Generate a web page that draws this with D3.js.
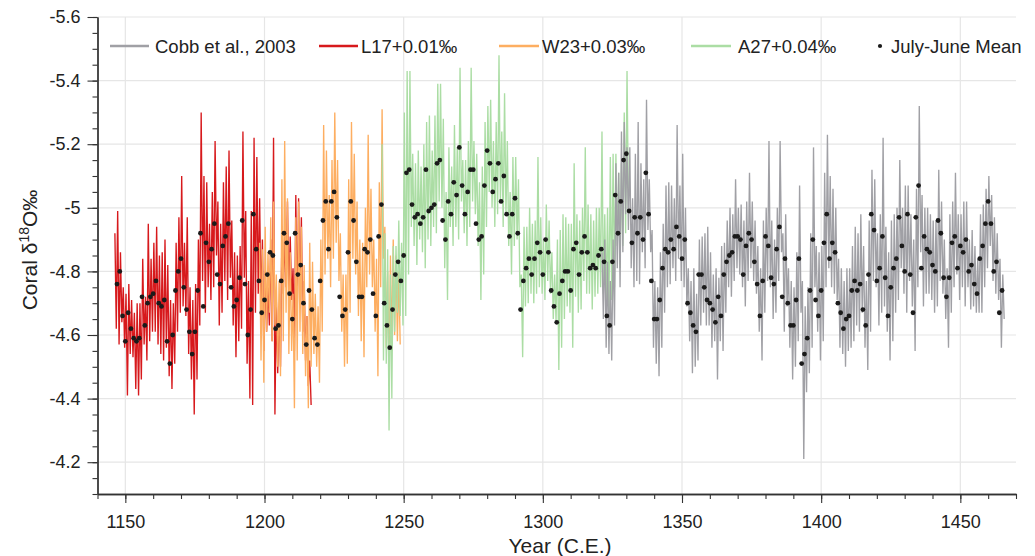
<!DOCTYPE html>
<html><head><meta charset="utf-8">
<script src="https://cdn.jsdelivr.net/npm/d3@7"></script>
<style>
html,body{margin:0;padding:0;background:#fff;}
svg{display:block;font-family:"Liberation Sans",Arial,Helvetica,sans-serif;}
</style></head><body>
<svg id="chart" width="1035" height="556"></svg>
<script>
// ---------------- DATA ----------------
const meanStart = 1147;
const meanValues = [
-4.76,-4.80,-4.66,-4.58,-4.67,-4.62,-4.59,-4.58,-4.59,-4.72,
-4.63,-4.70,-4.72,-4.73,-4.77,-4.70,-4.69,-4.71,-4.58,-4.51,
-4.60,-4.74,-4.80,-4.84,-4.75,-4.68,-4.61,-4.54,-4.61,-4.74,
-4.92,-4.69,-4.89,-4.83,-4.87,-4.95,-4.79,-4.76,-4.88,-4.91,
-4.95,-4.75,-4.69,-4.71,-4.78,-4.96,-4.76,-4.60,-4.68,-4.98,
-4.87,
-4.77,-4.67,-4.71,-4.79,-4.86,-4.85,-4.62,-4.63,-4.77,-4.92,
-4.89,-4.73,-4.65,-4.92,-4.79,-4.82,-4.70,-4.57,-4.74,-4.68,
-4.59,-4.57,-4.77,-4.96,-5.02,-4.87,-5.02,-5.05,-4.97,-4.72,
-4.66,-4.68,-4.86,-5.02,-4.96,-4.83,-4.72,-4.72,-4.87,-4.86,
-4.90,-4.73,-4.66,-4.91,-5.01,-4.70,-4.63,-4.56,-4.68,-4.79,
-4.83,-4.77,-4.85,
-5.11,-5.12,-5.01,-4.97,-4.98,-4.95,-4.97,-5.12,-4.99,-5.00,
-5.01,-5.14,-5.15,-4.96,-4.90,-5.02,-4.98,-5.08,-5.04,-5.19,
-5.07,-4.98,-5.05,-5.12,-5.12,-4.95,-4.90,-4.91,-5.07,-5.18,
-5.14,-5.05,-5.09,-5.14,-5.02,-5.10,-4.98,-4.91,-4.98,-5.03,
-4.92,-4.68,-4.77,-4.81,-4.84,-4.79,-4.84,-4.89,-4.86,-4.79,
-4.90,-4.86,-4.74,-4.69,
-4.64,-4.73,-4.77,-4.80,-4.80,-4.74,-4.87,-4.89,-4.79,-4.86,
-4.91,-4.86,-4.81,-4.82,-4.81,-4.85,-4.87,-4.83,-4.66,-4.63,
-4.83,-5.04,-4.92,-5.02,-5.15,-5.17,-4.99,-4.89,-4.97,-4.92,
-4.97,-4.90,-5.11,-4.98,-4.77,-4.65,-4.65,-4.71,-4.81,-4.87,
-4.86,-4.90,-4.87,-4.94,-4.91,-4.84,-4.90,-4.70,-4.67,-4.63,
-4.61,-4.79,-4.79,-4.75,
-4.71,-4.70,-4.68,-4.64,-4.72,-4.66,-4.79,-4.83,-4.85,-4.86,
-4.91,-4.91,-4.90,-4.79,-4.88,-4.92,-4.90,-4.83,-4.76,-4.66,
-4.77,-4.91,-4.88,-4.78,-4.76,-4.87,-4.94,-4.72,-4.84,-4.70,
-4.63,-4.63,-4.71,-4.84,-4.51,-4.54,-4.59,-4.74,-4.90,-4.71,
-4.66,-4.74,-4.89,-4.98,-4.84,-4.89,-4.86,-4.70,-4.67,-4.62,
-4.65,-4.66,-4.74,-4.77,
-4.74,-4.76,-4.68,-4.63,-4.79,-4.98,-4.93,-4.77,-4.81,-4.91,
-4.78,-4.66,-4.75,-4.81,-4.84,-4.97,-4.88,-4.80,-4.98,-4.79,
-4.67,-4.97,-5.07,-4.81,-4.91,-4.87,-4.86,-4.82,-4.80,-4.96,
-4.92,-4.78,-4.72,-4.78,-4.89,-4.91,-4.81,-4.88,-4.86,-4.90,
-4.80,-4.82,-4.76,-4.73,-4.84,-4.88,-4.95,-5.02,-4.95,-4.80,
-4.83,-4.67,-4.74
];

// Monthly records: per-year most negative (hi) and least negative (lo) excursions
const l17Start = 1146;
const l17Hi = [
-4.92,-4.99,-4.86,-4.75,-4.73,-4.76,-4.71,-4.67,-4.70,-4.70,
-4.84,-4.72,-4.95,-4.84,-4.89,-4.94,-4.85,-4.86,-4.90,-4.82,
-4.71,-4.70,-4.89,-4.97,-5.10,-4.89,-4.97,-4.75,-4.71,-4.76,
-4.90,-5.30,-5.10,-5.08,-4.95,-5.05,-5.21,-5.02,-4.95,-5.08,
-5.13,-5.18,-4.96,-4.86,-4.85,-4.88,-5.24,-4.99,-4.77,-4.99,
-5.22,-5.16,-5.03,-4.90,-4.80,-4.75,-4.90,-5.22,-4.71,-4.69,
-4.92,-4.91,-5.02,-4.91,-4.81,-5.04,-5.03,-4.97,-4.77,-4.66,
-4.52];
const l17Lo = [
-4.62,-4.57,-4.64,-4.56,-4.41,-4.54,-4.53,-4.43,-4.41,-4.46,
-4.57,-4.52,-4.58,-4.61,-4.61,-4.57,-4.54,-4.52,-4.56,-4.47,
-4.43,-4.51,-4.61,-4.67,-4.69,-4.66,-4.54,-4.46,-4.35,-4.46,
-4.63,-4.77,-4.67,-4.75,-4.71,-4.75,-4.85,-4.63,-4.67,-4.77,
-4.71,-4.78,-4.63,-4.53,-4.58,-4.62,-4.78,-4.51,-4.40,-4.38,
-4.67,-4.73,-4.69,-4.55,-4.61,-4.63,-4.58,-4.35,-4.48,-4.50,
-4.73,-4.75,-4.73,-4.71,-4.55,-4.66,-4.71,-4.61,-4.52,-4.44,
-4.38];

const w23Start = 1198;
const w23Hi = [
-4.89,-4.87,-4.94,-4.86,-4.97,-5.02,-4.79,-4.77,-5.09,-5.21,
-5.03,-4.86,-4.73,-4.97,-5.02,-4.94,-4.82,-4.66,-4.89,-4.83,
-4.73,-4.69,-4.90,-5.26,-5.18,-5.04,-5.15,-5.30,-5.15,-4.92,
-4.79,-4.79,-5.09,-5.27,-5.17,-5.02,-4.90,-4.89,-5.00,-5.23,
-5.06,-4.90,-4.84,-5.08,-5.31,-4.94,-4.80,-4.85,-4.90,-4.85,
-4.80];
const w23Lo = [
-4.52,-4.45,-4.61,-4.67,-4.58,-4.63,-4.50,-4.47,-4.58,-4.67,
-4.54,-4.55,-4.37,-4.52,-4.61,-4.54,-4.47,-4.37,-4.50,-4.54,
-4.50,-4.45,-4.61,-4.79,-4.84,-4.75,-4.84,-4.89,-4.77,-4.61,
-4.50,-4.51,-4.67,-4.84,-4.79,-4.66,-4.58,-4.53,-4.75,-4.79,
-4.75,-4.61,-4.47,-4.75,-4.84,-4.56,-4.45,-4.55,-4.60,-4.58,
-4.57];

const a27Start = 1242;
const a27Hi = [
-5.20,-4.92,-4.87,-4.79,-4.88,-4.88,-4.96,-4.89,-5.30,
-5.43,-5.43,-5.17,-5.14,-5.18,-5.13,-5.20,-5.27,-5.29,-5.18,
-5.29,-5.39,-5.39,-5.28,-5.05,-5.19,-5.13,-5.26,-5.19,-5.44,
-5.15,-5.15,-5.21,-5.44,-5.21,-5.17,-5.08,-5.13,-5.27,-5.32,
-5.34,-5.21,-5.27,-5.48,-5.24,-5.36,-5.21,-5.05,-5.16,-5.16,
-5.09,-4.79,-4.94,-4.94,-5.00,-4.95,-4.96,-5.16,-4.97,-4.90,
-5.01,-4.96,-4.86,-4.79,-4.90,-4.93,-4.98,-4.97,-4.95,-4.95,
-5.14,-4.98,-4.96,-5.00,-5.19,-5.01,-4.98,-4.96,-5.00,-5.00,
-5.24,-4.98,-5.00,-5.16,-5.17,-5.17,-5.11,-5.14,-5.30,-5.43];
const a27Lo = [
-4.52,-4.51,-4.30,-4.40,-4.61,-4.67,-4.66,-4.63,-4.66,
-4.79,-4.94,-4.88,-4.82,-4.90,-4.86,-4.81,-4.90,-4.88,-4.94,
-4.92,-5.02,-5.00,-4.81,-4.71,-4.94,-4.88,-4.94,-4.90,-5.02,
-4.92,-4.88,-4.94,-5.02,-4.98,-4.88,-4.71,-4.79,-4.94,-5.05,
-5.00,-4.94,-4.98,-5.02,-4.94,-4.98,-4.88,-4.79,-4.88,-4.90,
-4.75,-4.53,-4.69,-4.70,-4.73,-4.70,-4.73,-4.75,-4.73,-4.71,
-4.77,-4.73,-4.65,-4.64,-4.49,-4.56,-4.65,-4.69,-4.67,-4.56,
-4.72,-4.67,-4.68,-4.77,-4.73,-4.73,-4.68,-4.72,-4.73,-4.75,
-4.73,-4.71,-4.67,-4.71,-4.75,-4.88,-4.81,-4.88,-4.92,-5.00];

const cobbStart = 1321;
const cobbHi = [
-4.86,-4.90,-4.83,-4.77,-4.90,-5.14,-5.11,-5.24,-5.27,-5.19,
-5.19,-5.03,-5.17,-5.27,-5.14,-5.09,-5.34,-5.09,-4.93,-4.77,
-4.75,-4.86,-4.95,-5.07,-5.08,-5.07,-5.03,-5.26,-5.07,-5.17,
-5.00,-4.81,-4.77,-4.81,-4.73,-4.90,-4.91,-4.92,-4.94,-4.86,
-4.79,-4.81,-4.78,-4.88,-4.89,-4.96,-5.00,-4.98,-5.09,-5.00,
-5.01,-4.96,-5.02,-5.11,-5.02,-4.96,-4.88,-4.81,-4.96,-5.00,
-5.21,-4.96,-4.90,-5.00,-5.21,-4.92,-4.98,-4.81,-4.77,-4.75,
-4.86,-5.07,-4.77,-4.69,-4.75,-4.92,-5.19,-4.88,-4.86,-4.88,
-5.11,-5.23,-5.10,-5.06,-5.00,-4.84,-4.81,-4.77,-4.81,-4.81,
-4.88,-4.94,-4.92,-4.98,-4.88,-4.77,-4.96,-5.12,-5.09,-4.92,
-4.98,-5.22,-4.94,-4.86,-4.96,-4.98,-5.00,-5.15,-5.00,-5.07,
-5.07,-4.98,-4.90,-5.06,-5.32,-5.04,-5.00,-5.00,-4.98,-4.96,
-4.96,-5.12,-5.02,-4.90,-4.81,-4.98,-5.02,-5.11,-4.98,-4.98,
-5.02,-5.02,-4.90,-4.93,-4.88,-4.84,-4.98,-5.01,-5.06,-5.10,
-5.04,-4.97,-4.92,-4.84,-4.79];
const cobbLo = [
-4.65,-4.56,-4.54,-4.52,-4.63,-4.81,-4.75,-4.86,-4.98,-4.93,
-4.81,-4.75,-4.77,-4.76,-4.86,-4.81,-4.93,-4.86,-4.56,-4.51,
-4.47,-4.56,-4.67,-4.75,-4.76,-4.81,-4.77,-4.84,-4.77,-4.75,
-4.69,-4.58,-4.48,-4.50,-4.52,-4.63,-4.67,-4.63,-4.63,-4.56,
-4.58,-4.46,-4.58,-4.55,-4.67,-4.75,-4.72,-4.77,-4.81,-4.79,
-4.75,-4.69,-4.77,-4.81,-4.77,-4.73,-4.61,-4.52,-4.67,-4.77,
-4.75,-4.65,-4.67,-4.77,-4.86,-4.61,-4.69,-4.56,-4.46,-4.50,
-4.58,-4.67,-4.21,-4.42,-4.48,-4.56,-4.75,-4.61,-4.52,-4.58,
-4.75,-4.81,-4.75,-4.73,-4.71,-4.56,-4.54,-4.50,-4.55,-4.56,
-4.58,-4.63,-4.61,-4.67,-4.56,-4.49,-4.61,-4.77,-4.75,-4.63,
-4.67,-4.69,-4.61,-4.52,-4.58,-4.67,-4.71,-4.81,-4.73,-4.67,
-4.77,-4.69,-4.55,-4.75,-4.86,-4.69,-4.73,-4.73,-4.71,-4.67,
-4.69,-4.77,-4.73,-4.65,-4.56,-4.67,-4.75,-4.79,-4.71,-4.75,
-4.69,-4.75,-4.68,-4.69,-4.67,-4.67,-4.67,-4.75,-4.81,-4.88,
-4.77,-4.73,-4.71,-4.56,-4.65];

const xTicks = [1150, 1200, 1250, 1300, 1350, 1400, 1450];
const yTicks = [-5.6, -5.4, -5.2, -5, -4.8, -4.6, -4.4, -4.2];
const seriesLabels = ["Cobb et al., 2003", "L17+0.01‰", "W23+0.03‰", "A27+0.04‰"];
const meanLabel = "July-June Mean";

// ---------------- CHART ----------------
const svg = d3.select("#chart");
const X0 = 97.5, X1 = 1016, Y0 = 17, Y1 = 494;
const x = d3.scaleLinear().domain([1140, 1470]).range([X0, X1]);
const y = d3.scaleLinear().domain([-5.6, -4.1]).range([Y0, Y1]);

const colors = {cobb: "#a0a0a5", l17: "#d7191c", w23: "#fdae61", a27: "#abdda4"};

// grid
const grid = svg.append("g");
grid.selectAll("line.v").data(xTicks).join("line")
  .attr("x1", d => x(d)).attr("x2", d => x(d)).attr("y1", Y0).attr("y2", Y1)
  .attr("stroke", "#e6e6e6").attr("stroke-width", 1.2);
grid.selectAll("line.h").data(yTicks).join("line")
  .attr("x1", X0).attr("x2", X1).attr("y1", d => y(d)).attr("y2", d => y(d))
  .attr("stroke", "#e6e6e6").attr("stroke-width", 1.2);

// series
function seriesPoints(start, hi, lo) {
  const pts = [];
  hi.forEach((h, i) => {
    pts.push([start + i + 0.25, h]);
    pts.push([start + i + 0.75, lo[i]]);
  });
  return pts;
}
const line = d3.line().x(d => x(d[0])).y(d => y(d[1]));
const series = [
  {key: "l17", pts: seriesPoints(l17Start, l17Hi, l17Lo)},
  {key: "w23", pts: seriesPoints(w23Start, w23Hi, w23Lo)},
  {key: "a27", pts: seriesPoints(a27Start, a27Hi, a27Lo)},
  {key: "cobb", pts: seriesPoints(cobbStart, cobbHi, cobbLo)}
];
svg.append("g").selectAll("path").data(series).join("path")
  .attr("d", d => line(d.pts))
  .attr("fill", "none")
  .attr("stroke", d => colors[d.key])
  .attr("stroke-width", 1.35)
  .attr("stroke-linejoin", "bevel");

// mean dots
svg.append("g").selectAll("circle").data(meanValues).join("circle")
  .attr("cx", (d, i) => x(meanStart + i))
  .attr("cy", d => y(d))
  .attr("r", 2.4)
  .attr("fill", "#1a1a1a");

// axes
const axisColor = "#333";
const xAxisMinor = d3.axisBottom(x).tickValues(d3.range(1140, 1471, 10)).tickSize(5).tickFormat("").tickSizeOuter(0);
const xAxis = d3.axisBottom(x).tickValues(xTicks).tickSize(9).tickPadding(12).tickSizeOuter(0).tickFormat(d3.format("d"));
const gxm = svg.append("g").attr("transform", `translate(0,${Y1})`).call(xAxisMinor);
const gx = svg.append("g").attr("transform", `translate(0,${Y1})`).call(xAxis);
const yMinor = d3.range(0, 31).map(i => +(-5.6 + i * 0.05).toFixed(2));
const yAxisMinor = d3.axisLeft(y).tickValues(yMinor).tickSize(5).tickFormat("").tickSizeOuter(0);
const yAxis = d3.axisLeft(y).tickValues(yTicks).tickSize(10).tickPadding(7).tickSizeOuter(0).tickFormat(d => String(d));
const gym = svg.append("g").attr("transform", `translate(${X0},0)`).call(yAxisMinor);
const gy = svg.append("g").attr("transform", `translate(${X0},0)`).call(yAxis);
[gxm, gx, gym, gy].forEach(g => {
  g.selectAll(".domain").attr("stroke", axisColor).attr("stroke-width", 1.3);
  g.selectAll(".tick line").attr("stroke", axisColor).attr("stroke-width", 1.1);
  g.selectAll(".tick text").attr("fill", "#222").attr("font-size", 18)
    .attr("font-family", "'Liberation Sans', Arial, sans-serif");
});

// axis titles
svg.append("text").attr("x", 560).attr("y", 553).attr("text-anchor", "middle")
  .attr("font-size", 21).attr("fill", "#222").text("Year (C.E.)");
const yt = svg.append("text").attr("transform", "translate(37,250) rotate(-90)")
  .attr("text-anchor", "middle").attr("font-size", 21).attr("fill", "#222");
yt.append("tspan").text("Coral δ");
yt.append("tspan").attr("font-size", 14).attr("dy", -8).text("18");
yt.append("tspan").attr("dy", 8).text("O‰");

// legend
const legendItems = [
  {label: seriesLabels[0], color: colors.cobb, x1: 110, x2: 149, tx: 155},
  {label: seriesLabels[1], color: colors.l17, x1: 319, x2: 358, tx: 361},
  {label: seriesLabels[2], color: colors.w23, x1: 499, x2: 539, tx: 542},
  {label: seriesLabels[3], color: colors.a27, x1: 691, x2: 731, tx: 738}
];
const lg = svg.append("g");
legendItems.forEach(it => {
  lg.append("line").attr("x1", it.x1).attr("x2", it.x2).attr("y1", 46).attr("y2", 46)
    .attr("stroke", it.color).attr("stroke-width", 2.6);
  lg.append("text").attr("x", it.tx).attr("y", 53).attr("font-size", 18.5).attr("fill", "#222").text(it.label);
});
lg.append("circle").attr("cx", 880).attr("cy", 46).attr("r", 2.1).attr("fill", "#1a1a1a");
lg.append("text").attr("x", 891).attr("y", 53).attr("font-size", 18.5).attr("fill", "#222").text(meanLabel);
</script>
</body></html>
